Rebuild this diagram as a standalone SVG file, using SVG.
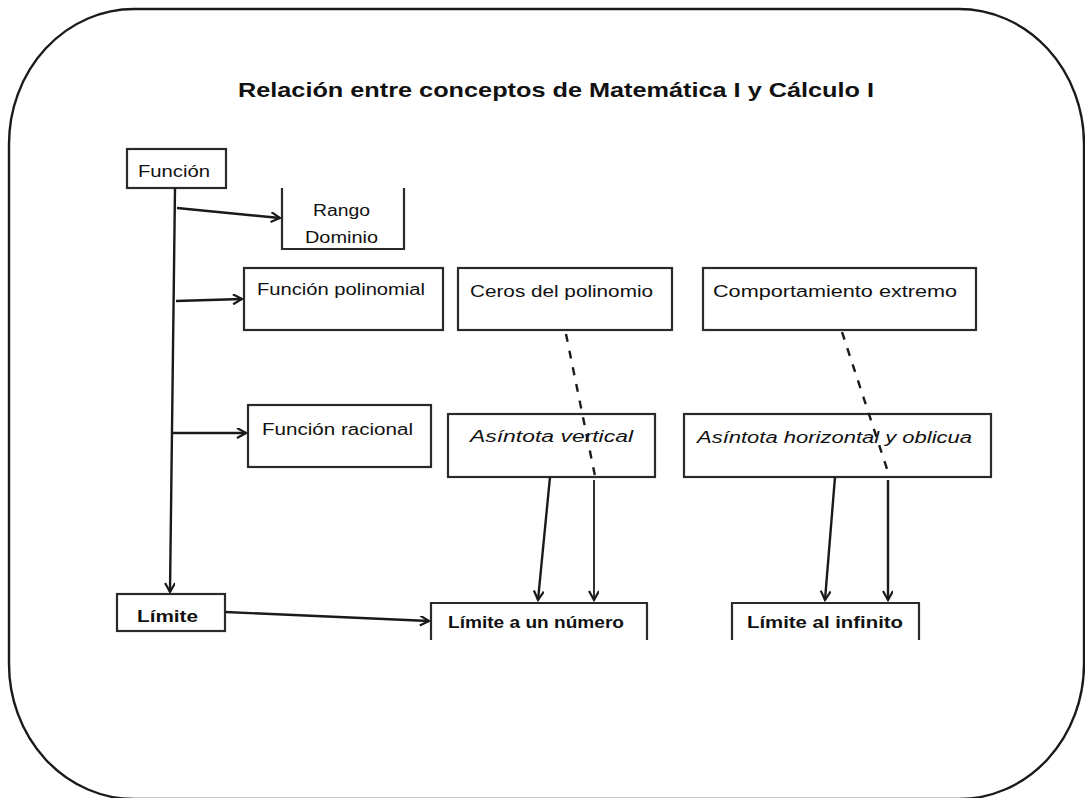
<svg xmlns="http://www.w3.org/2000/svg" width="1085" height="798" viewBox="0 0 1085 798">
<style>
.box{fill:none;stroke:#2a2a2a;stroke-width:2.2}
.open{fill:none;stroke:#2a2a2a;stroke-width:2.2}
.t{font-family:"Liberation Sans",Arial,sans-serif;font-size:16px;fill:#111}
.b{font-weight:bold}
.ln{fill:none;stroke:#1a1a1a;stroke-width:2.4}
.thin{fill:none;stroke:#1a1a1a;stroke-width:1.8}
.dash{fill:none;stroke:#1a1a1a;stroke-width:2.4;stroke-dasharray:8 9}
</style>
<defs>
<marker id="ah" markerWidth="12" markerHeight="12" refX="10" refY="5" orient="auto" markerUnits="userSpaceOnUse">
<path d="M1,0 L10,5 L1,10" fill="none" stroke="#1a1a1a" stroke-width="2.2"/>
</marker>
</defs>
<rect width="1085" height="798" fill="#fff"/>
<rect id="frame" x="9" y="9" width="1075" height="790" rx="125" ry="135" fill="none" stroke="#1a1a1a" stroke-width="2.4"/>
<text id="title" x="556" y="97" text-anchor="middle" class="t b" style="font-size:21px" textLength="636" lengthAdjust="spacingAndGlyphs">Relación entre conceptos de Matemática I y Cálculo I</text>

<g id="funcion">
<rect class="box" x="127" y="149" width="99" height="39"/>
<text class="t" x="138" y="177" textLength="72" lengthAdjust="spacingAndGlyphs">Función</text>
</g>
<g id="rango">
<path class="open" d="M282,188 V249 H404 V188"/>
<text class="t" x="313" y="216" textLength="57" lengthAdjust="spacingAndGlyphs">Rango</text>
<text class="t" x="305" y="243" textLength="73" lengthAdjust="spacingAndGlyphs">Dominio</text>
</g>
<g id="polinomial">
<rect class="box" x="244" y="268" width="199" height="62"/>
<text class="t" x="257" y="295" textLength="168" lengthAdjust="spacingAndGlyphs">Función polinomial</text>
</g>
<g id="ceros">
<rect class="box" x="458" y="268" width="214" height="62"/>
<text class="t" x="470" y="297" textLength="183" lengthAdjust="spacingAndGlyphs">Ceros del polinomio</text>
</g>
<g id="comportamiento">
<rect class="box" x="703" y="268" width="273" height="62"/>
<text class="t" x="713" y="297" textLength="244" lengthAdjust="spacingAndGlyphs">Comportamiento extremo</text>
</g>
<g id="racional">
<rect class="box" x="248" y="405" width="183" height="62"/>
<text class="t" x="262" y="435" textLength="151" lengthAdjust="spacingAndGlyphs">Función racional</text>
</g>
<g id="asintota-vertical">
<rect class="box" x="448" y="414" width="207" height="63"/>
<text class="t" x="470" y="442" style="font-style:italic" textLength="163" lengthAdjust="spacingAndGlyphs">Asíntota vertical</text>
</g>
<g id="asintota-horizontal">
<rect class="box" x="684" y="414" width="307" height="63"/>
<text class="t" x="697" y="443" style="font-style:italic" textLength="275" lengthAdjust="spacingAndGlyphs">Asíntota horizontal y oblicua</text>
</g>
<g id="limite">
<rect class="box" x="117" y="594" width="108" height="37"/>
<text class="t b" x="137" y="622" textLength="61" lengthAdjust="spacingAndGlyphs">Límite</text>
</g>
<g id="limite-numero">
<path class="open" d="M431,640 V603 H647 V640"/>
<text class="t b" x="448" y="628" textLength="176" lengthAdjust="spacingAndGlyphs">Límite a un número</text>
</g>
<g id="limite-infinito">
<path class="open" d="M732,640 V603 H919 V640"/>
<text class="t b" x="747" y="628" textLength="156" lengthAdjust="spacingAndGlyphs">Límite al infinito</text>
</g>

<g id="connectors">
<path class="ln" d="M175,188 L170,592" marker-end="url(#ah)"/>
<path class="ln" d="M177,208 L280,218" marker-end="url(#ah)"/>
<path class="ln" d="M176,301 L242,299" marker-end="url(#ah)"/>
<path class="ln" d="M173,433 L246,433" marker-end="url(#ah)"/>
<path class="ln" d="M225,612 L429,621" marker-end="url(#ah)"/>
<path class="dash" d="M566,334 L595,476"/>
<path class="dash" d="M842,332 L888,472"/>
<path class="ln" d="M550,477 L538,600" marker-end="url(#ah)"/>
<path class="thin" d="M594,480 L594,600" marker-end="url(#ah)"/>
<path class="ln" d="M835,477 L825,600" marker-end="url(#ah)"/>
<path class="ln" d="M888,480 L888,600" marker-end="url(#ah)"/>
</g>
</svg>
